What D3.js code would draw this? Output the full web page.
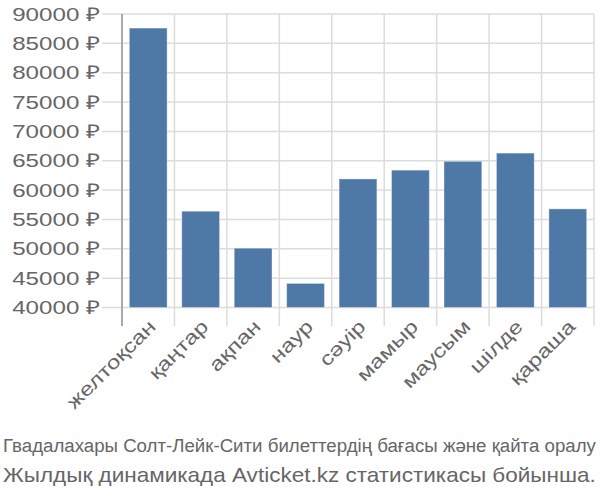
<!DOCTYPE html>
<html><head><meta charset="utf-8">
<script src="https://cdn.jsdelivr.net/npm/d3@7"></script>
<style>body{margin:0;background:#fff}svg{display:block}text{font-family:"Liberation Sans",Arial,sans-serif}</style>
</head><body><svg id="c" width="600" height="500"></svg>
<script>
const months = ["желтоқсан","қаңтар","ақпан","наур","сәуір","мамыр","маусым","шілде","қараша"];
const prices = [87600, 56400, 50100, 44100, 61900, 63400, 64900, 66300, 56800];
const yTicks = [40000,45000,50000,55000,60000,65000,70000,75000,80000,85000,90000];
const caption1 = "Гвадалахары Солт-Лейк-Сити билеттердің бағасы және қайта оралу";
const caption2 = "Жылдық динамикада Avticket.kz статистикасы бойынша.";

const svg = d3.select("#c");
const L = 122, R = 594, T = 14, B = 307.5;
const STRETCH = 1.27;
const x = d3.scaleBand().domain(months).range([L, R]).paddingInner(0.28).paddingOuter(0.14);
const y = d3.scaleLinear().domain([40000, 90000]).range([B, T]);

function stretch(sel) {
  sel.each(function() {
    const w = this.getComputedTextLength();
    d3.select(this).attr("textLength", w * STRETCH).attr("lengthAdjust", "spacingAndGlyphs");
  });
}

// horizontal grid + tick marks
svg.append("g").selectAll("line").data(yTicks).join("line")
  .attr("x1", 102).attr("x2", R).attr("y1", d => y(d)).attr("y2", d => y(d))
  .attr("stroke", "#dcdcdc").attr("stroke-width", 1.5);
// vertical grid at band boundaries
const bounds = months.map(m => x(m) - x.step()*x.paddingInner()/2).concat([R]);
svg.append("g").selectAll("line").data(bounds.slice(1)).join("line")
  .attr("x1", d => d).attr("x2", d => d).attr("y1", T).attr("y2", 326)
  .attr("stroke", "#dcdcdc").attr("stroke-width", 1.5);
// left axis
svg.append("line").attr("x1", L).attr("x2", L).attr("y1", T).attr("y2", 326)
  .attr("stroke", "#aaaaaa").attr("stroke-width", 2);

// bars
svg.append("g").selectAll("rect").data(prices).join("rect")
  .attr("x", (d,i) => x(months[i])).attr("width", x.bandwidth())
  .attr("y", d => y(d)).attr("height", d => B - y(d))
  .attr("fill", "#4e78a6").attr("stroke", "#ffffff").attr("stroke-opacity", 0.35).attr("stroke-width", 1);

// y labels
svg.append("g").selectAll("text").data(yTicks).join("text")
  .attr("x", 100).attr("y", d => y(d)).attr("dy", "0.35em").attr("text-anchor", "end")
  .attr("font-size", 19).attr("fill", "#666").text(d => d + " ₽").call(stretch);

// x labels
svg.append("g").selectAll("text").data(months).join("text")
  .attr("transform", m => `translate(${x(m) + x.bandwidth()/2 + 4},${323}) rotate(-45)`)
  .attr("text-anchor", "end").attr("dy", "0.35em")
  .attr("font-size", 19).attr("fill", "#666").text(m => m).call(stretch);

// captions, scaled horizontally to fit the width
function fitCaption(txt, yPos, size, width) {
  const t = svg.append("text").attr("x", 0).attr("y", 0).attr("font-size", size)
    .attr("fill", "#666").text(txt);
  const w = t.node().getComputedTextLength();
  t.attr("transform", `translate(3,${yPos}) scale(${width / w},1)`);
}
fitCaption(caption1, 452, 19, 593);
fitCaption(caption2, 482, 21, 593);
</script></body></html>
